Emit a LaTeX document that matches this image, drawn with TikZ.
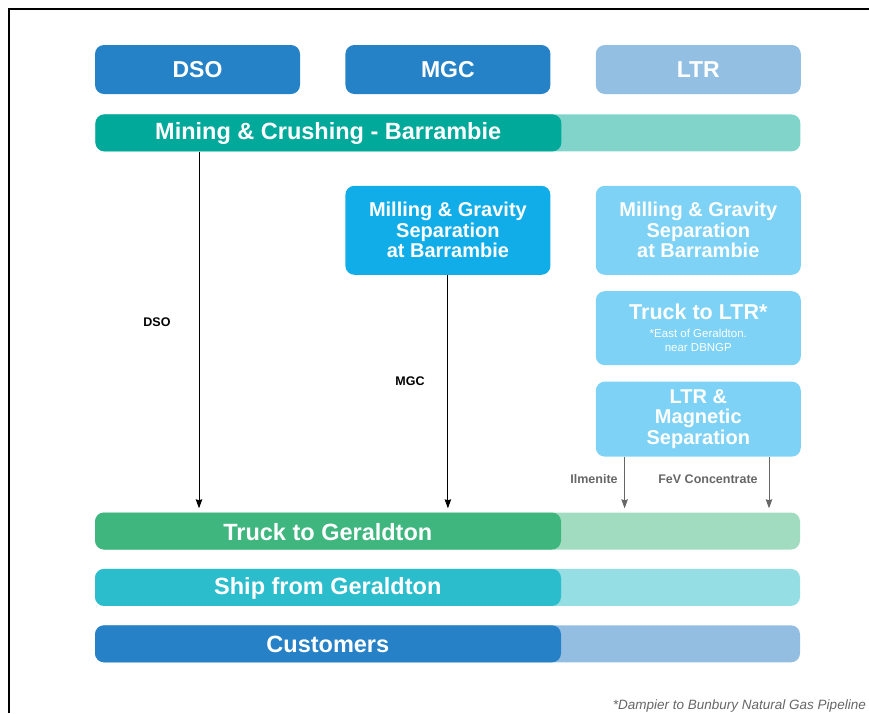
\documentclass[tikz,border=0pt]{standalone}
\usepackage{fontspec}
\setmainfont{Liberation Sans}
\usetikzlibrary{positioning}
\usetikzlibrary{arrows.meta}

\definecolor{hdrblue}{HTML}{2682C7}
\definecolor{hdrlight}{HTML}{93BFE3}
\definecolor{tealD}{HTML}{00A99A}
\definecolor{tealL}{HTML}{80D4C9}
\definecolor{millblue}{HTML}{10ADE9}
\definecolor{ltrblue}{HTML}{7DD2F5}
\definecolor{greenD}{HTML}{40B67F}
\definecolor{greenL}{HTML}{A2DCC0}
\definecolor{cyanD}{HTML}{2BBDCC}
\definecolor{cyanL}{HTML}{94DEE4}
\definecolor{custD}{HTML}{2681C6}
\definecolor{custL}{HTML}{93BEE2}
\definecolor{lblgray}{HTML}{666666}

\begin{document}
\begin{tikzpicture}[x=1pt,y=-1pt,node distance=45pt,
  box/.style={rounded corners=9pt, inner sep=0pt, text=white, align=center,
              font=\bfseries\fontsize{23}{25}\selectfont},
  hdr/.style={box, minimum width=205pt, minimum height=49pt},
  proc/.style={box, minimum width=205pt, font=\bfseries\fontsize{20}{20.5}\selectfont},
  bar/.style 2 args={box, minimum width=705pt, minimum height=37pt, fill=#2,
     path picture={\fill[#1] (path picture bounding box.north west) rectangle ([xshift=466pt]path picture bounding box.south west);}},
  bartext/.style={inner sep=0pt, text=white, font=\bfseries\fontsize{23.5}{25}\selectfont},
  flow/.style={-{Stealth[length=9pt,width=6.5pt,inset=1pt]}, line width=0.9pt, shorten >=4pt},
  flowlbl/.style={inner sep=0pt, font=\bfseries\fontsize{12.5}{13}\selectfont}
]
 \useasboundingbox (0,0) rectangle (869,713);
 \draw[line width=2pt] (8.5,713) -- (8.5,9) -- (869,9);

 % route headers
 \node[hdr, fill=hdrblue,            name=dso ] at (197.5,69.5) {DSO};
 \node[hdr, fill=hdrblue,  right=45pt of dso, name=mgc ] {MGC};
 \node[hdr, fill=hdrlight, right=45pt of mgc, name=ltr ] {LTR};

 % mining
 \node[bar={tealD}{tealL}, below=20pt of mgc, name=mine] {};
 \node[bartext] (minetxt) at ([xshift=233pt,yshift=-1pt]mine.west) {Mining \& Crushing - Barrambie};

 % processing
 \node[proc, fill=millblue, minimum height=89pt, below=34pt of mine,   name=millm] {Milling \& Gravity\\Separation\\at Barrambie};
 \node[proc, fill=ltrblue,  minimum height=89pt, right=45pt of millm,  name=milll] {Milling \& Gravity\\Separation\\at Barrambie};
 \node[proc, fill=ltrblue,  minimum height=74pt, below=16pt of milll,  name=trkl ]
      {{\fontsize{21.5}{22}\selectfont Truck to LTR*}\\[-3pt]{\mdseries\fontsize{11.5}{12}\selectfont *East of Geraldton.}\\[-6pt]{\mdseries\fontsize{11.5}{12}\selectfont near DBNGP}};
 \node[proc, fill=ltrblue,  minimum height=75pt, below=16pt of trkl,   name=mag  ] {LTR \&\\Magnetic\\Separation};

 % logistics
 \node[bar={greenD}{greenL}, name=truck] at (447.5,531) {};
 \node[bar={cyanD}{cyanL},   below=19pt of truck, name=ship] {};
 \node[bar={custD}{custL},   below=19pt of ship,  name=cust] {};
 \node[bartext] (trucktxt) at ([xshift=233pt,yshift=-1pt]truck.west) {Truck to Geraldton};
 \node[bartext] (shiptxt)  at ([xshift=233pt,yshift=-1pt]ship.west)  {Ship from Geraldton};
 \node[bartext] (custtxt)  at ([xshift=233pt,yshift=-1pt]cust.west)  {Customers};

 % flows
 \coordinate (ilm) at ([xshift=29pt]mag.south west);
 \coordinate (fev) at ([xshift=-32pt]mag.south east);
 \draw[flow]          ([xshift=1.5pt]dso.south |- mine.south) -- ([xshift=1.5pt]dso.south |- truck.north);
 \draw[flow]          (millm.south) -- (millm.south |- truck.north);
 \draw[flow,lblgray]  (ilm) -- (ilm |- truck.north);
 \draw[flow,lblgray]  (fev) -- (fev |- truck.north);

 \node[flowlbl]              (dsolbl) at (157,322) {DSO};
 \node[flowlbl]              (mgclbl) at (410,381) {MGC};
 \node[flowlbl,text=lblgray] (ilmlbl) at (594,479) {Ilmenite};
 \node[flowlbl,text=lblgray] (fevlbl) at (708,479) {FeV Concentrate};

 \node[anchor=east, inner sep=0pt, text=lblgray, font=\itshape\fontsize{13.5}{14}\selectfont] (note) at (866,706)
      {*Dampier to Bunbury Natural Gas Pipeline};
\end{tikzpicture}
\end{document}
